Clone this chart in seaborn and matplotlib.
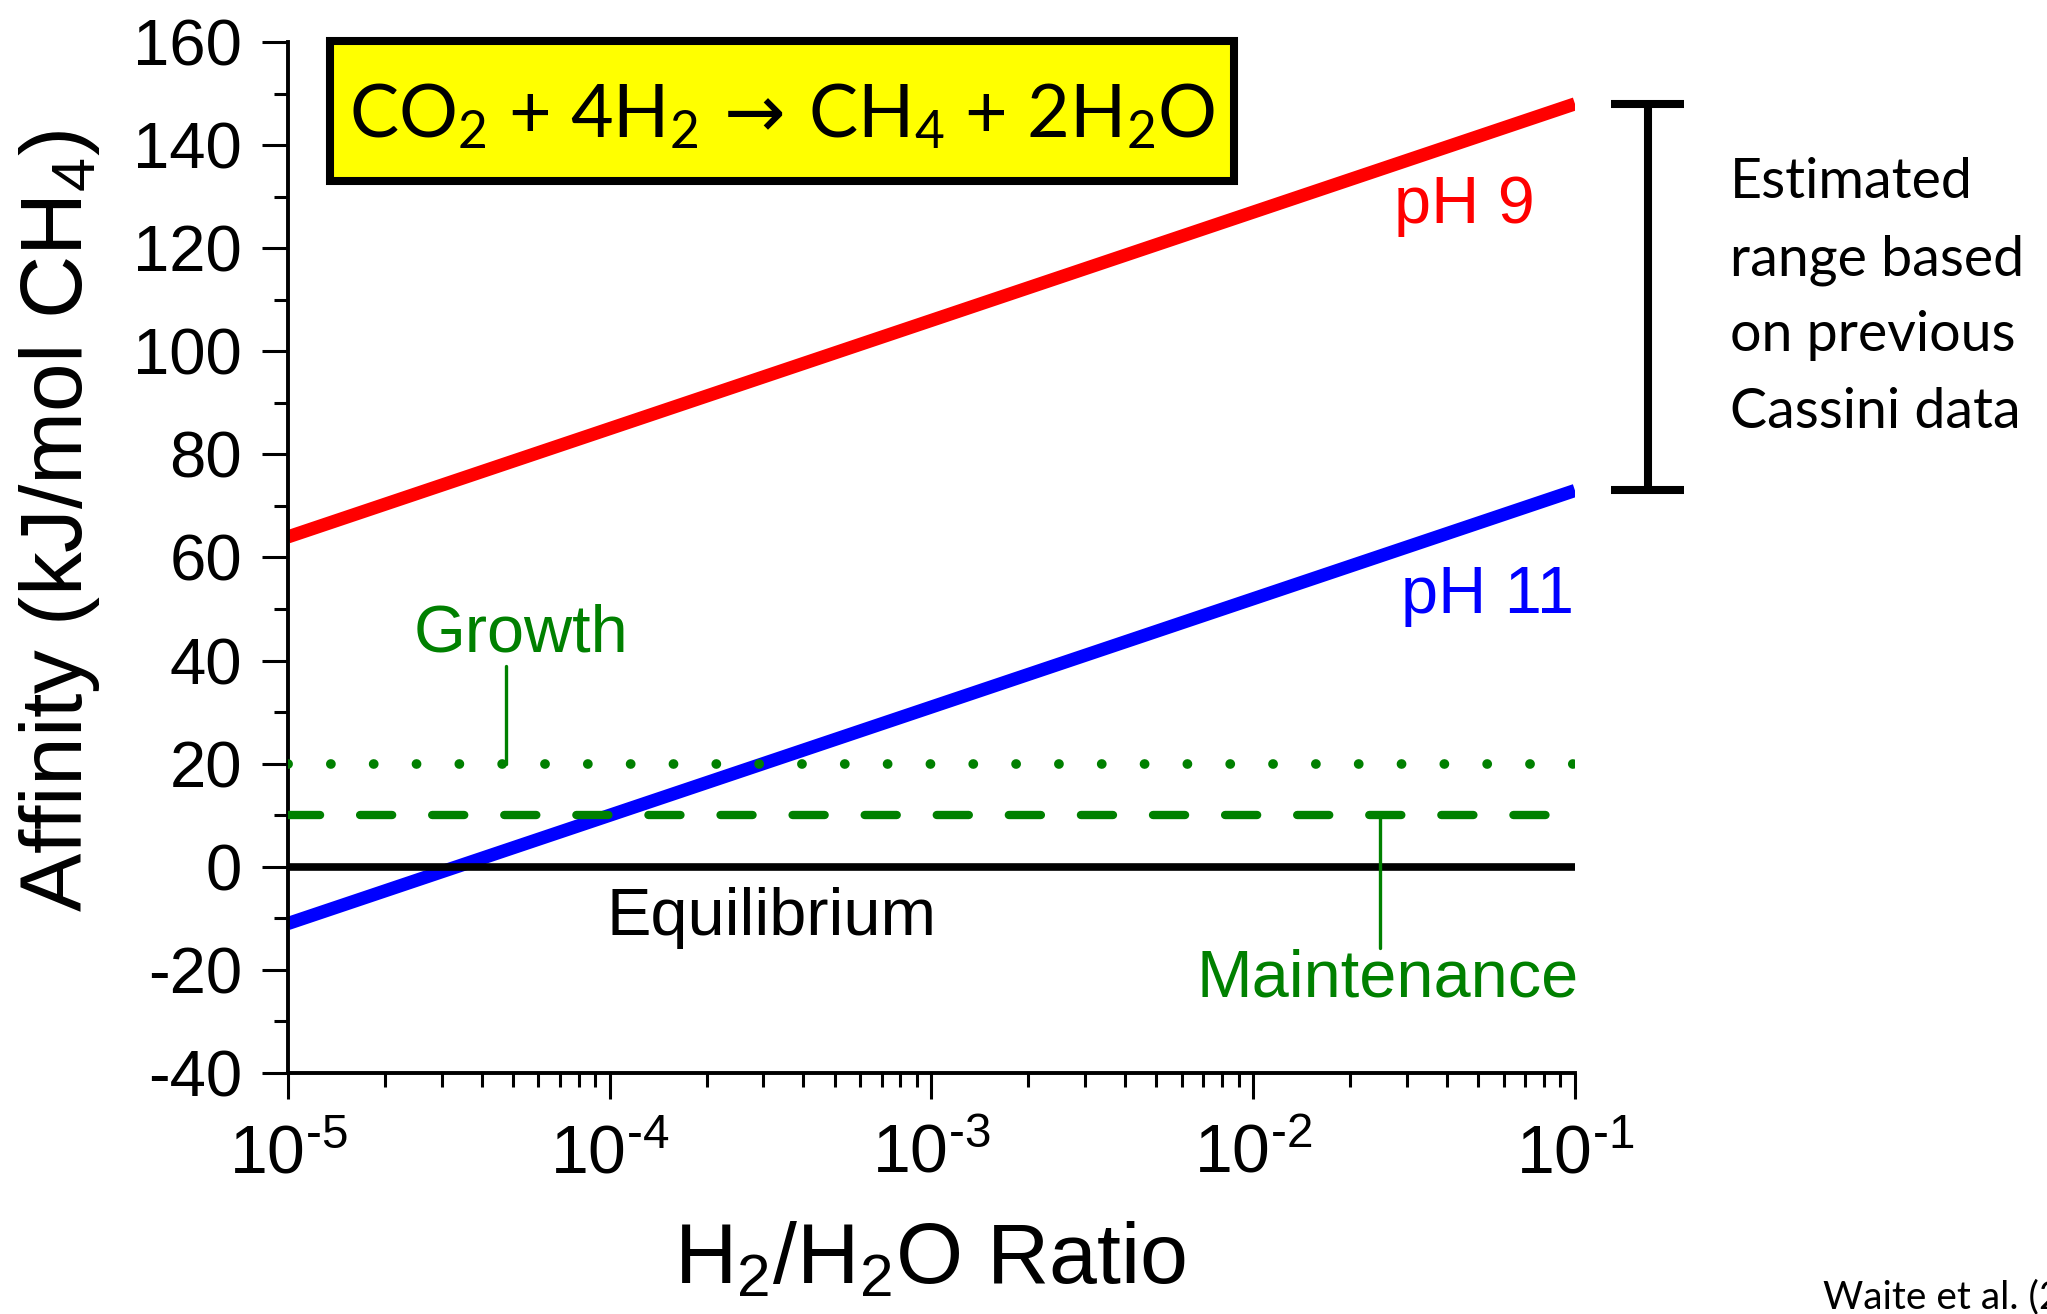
import numpy as np
import pandas as pd
import matplotlib
matplotlib.use('Agg')
import matplotlib.pyplot as plt
import matplotlib.transforms as mtransforms
from matplotlib.patches import Rectangle
from matplotlib.ticker import MultipleLocator, LogLocator, NullFormatter
import seaborn as sns

# ---------------- data ----------------
ratio = [1e-5, 1e-4, 1e-3, 1e-2, 1e-1]
affinity_ph9 = [64, 85, 106, 127, 148]
affinity_ph11 = [-11, 10, 31, 52, 73]
growth_level = 20
maintenance_level = 10
equilibrium_level = 0
cassini_range = [73, 148]
y_ticks = [-40, -20, 0, 20, 40, 60, 80, 100, 120, 140, 160]
x_ticks = [1e-5, 1e-4, 1e-3, 1e-2, 1e-1]
x_tick_labels = [r'$\mathregular{10}^{\text{-5}}$', r'$\mathregular{10}^{\text{-4}}$',
                 r'$\mathregular{10}^{\text{-3}}$', r'$\mathregular{10}^{\text{-2}}$',
                 r'$\mathregular{10}^{\text{-1}}$']
note_lines = ['Estimated', 'range based', 'on previous', 'Cassini data']

# ---------------- style ----------------
sns.set_style('ticks')
plt.rcParams['font.family'] = ['Liberation Sans', 'DejaVu Sans']
plt.rcParams['axes.unicode_minus'] = False
plt.rcParams['mathtext.fontset'] = 'custom'
plt.rcParams['mathtext.rm'] = 'Liberation Sans'
plt.rcParams['mathtext.it'] = 'Liberation Sans:italic'
plt.rcParams['mathtext.bf'] = 'Liberation Sans:bold'
plt.rcParams['mathtext.sf'] = 'DejaVu Sans'
for k in ['text.color', 'axes.labelcolor', 'xtick.color', 'ytick.color', 'axes.edgecolor']:
    plt.rcParams[k] = 'black'

RED = '#FF0000'
BLUE = '#0000FF'
GREEN = '#008000'

fig = plt.figure(figsize=(20.47, 13.14), dpi=100)
ax = fig.add_axes([0.14069, 0.18341, 0.62872, 0.78463])

df = pd.DataFrame({
    'ratio': ratio + ratio,
    'affinity': affinity_ph9 + affinity_ph11,
    'pH': ['pH 9'] * len(ratio) + ['pH 11'] * len(ratio),
})
sns.lineplot(data=df, x='ratio', y='affinity', hue='pH',
             palette={'pH 9': RED, 'pH 11': BLUE}, linewidth=9.5,
             legend=False, ax=ax, zorder=2)
for ln in ax.lines:
    ln.set_solid_capstyle('butt')

ax.set_xscale('log')
ax.set_xlim(1e-5, 1e-1)
ax.set_ylim(-40, 160)

# thresholds
ax.axhline(growth_level, color=GREEN, lw=7, linestyle=(0, (0.01, 4.395)),
           dash_capstyle='round', zorder=3)
ax.axhline(maintenance_level, color=GREEN, lw=6, linestyle=(0, (3.85, 4.8)),
           dash_capstyle='round', zorder=3)
ax.axhline(equilibrium_level, color='black', lw=5.5, zorder=3)

# leader lines
ax.plot([4.76e-5, 4.76e-5], [growth_level, 39], color=GREEN, lw=2.4, zorder=3)
ax.plot([0.02477, 0.02477], [maintenance_level, -15.7], color=GREEN, lw=2.4, zorder=3)

# labels in plot
fs_ann = 48
ax.text(0.0752, 124.9, 'pH 9', color=RED, fontsize=fs_ann, ha='right', va='baseline')
ax.text(0.0995, 49.2, 'pH 11', color=BLUE, fontsize=fs_ann, ha='right', va='baseline')
ax.text(5.30e-5, 41.7, 'Growth', color=GREEN, fontsize=fs_ann, ha='center', va='baseline')
ax.text(3.19e-4, -13.2, 'Equilibrium', color='black', fontsize=fs_ann, ha='center', va='baseline')
ax.text(0.02624, -25.1, 'Maintenance', color=GREEN, fontsize=fs_ann, ha='center', va='baseline')

# ticks
ax.set_yticks(y_ticks)
ax.yaxis.set_minor_locator(MultipleLocator(10))
ax.set_xticks(x_ticks)
ax.set_xticklabels(x_tick_labels)
ax.xaxis.set_minor_locator(LogLocator(base=10, subs=np.arange(2, 10)))
ax.xaxis.set_minor_formatter(NullFormatter())
ax.tick_params(which='major', length=19, width=2.2, direction='out', colors='black')
ax.tick_params(axis='y', which='major', labelsize=47, pad=14)
ax.tick_params(axis='x', which='major', labelsize=49, pad=17)
ax.tick_params(which='minor', length=10, width=2.2, direction='out', colors='black')
sns.despine(ax=ax)
for s in ['left', 'bottom']:
    ax.spines[s].set_linewidth(2.8)
    ax.spines[s].set_color('black')

# axis labels
ax.set_xlabel(r'H$_\mathregular{2}$/H$_\mathregular{2}$O Ratio', fontsize=62)
ax.xaxis.label.set_va('baseline')
ax.xaxis.set_label_coords(0.499, -0.2037)
ax.set_ylabel(r'Affinity (kJ/mol CH$_\mathregular{4}$)', fontsize=63)
ax.yaxis.label.set_va('baseline')
ax.yaxis.set_label_coords(-0.160, 0.5354)

# equation box
box = Rectangle((0.0326, 0.8652), 0.7025, 0.1358, transform=ax.transAxes,
                facecolor='#FFFF00', edgecolor='black', lw=5.8, clip_on=False, zorder=5)
ax.add_patch(box)
ax.text(0.3838, 0.9075,
        r'CO$_\mathregular{2}$ + 4H$_\mathregular{2}\,\mathsf{\rightarrow}\,$CH$_\mathregular{4}$ + 2H$_\mathregular{2}$O',
        transform=ax.transAxes, fontsize=53, family='Lato', ha='center', va='baseline',
        color='black', zorder=6, clip_on=False)

# Cassini range bar (outside axes, y in data units)
trans = mtransforms.blended_transform_factory(ax.transAxes, ax.transData)
bar_x = 1.0567
ax.plot([bar_x, bar_x], cassini_range, transform=trans, color='black', lw=5.8,
        clip_on=False, solid_capstyle='butt')
for v in cassini_range:
    ax.plot([1.028, 1.0847], [v, v], transform=trans, color='black', lw=5.8,
            clip_on=False, solid_capstyle='butt')

note_y = [0.8487, 0.7740, 0.7003, 0.6256]
for txt, yy in zip(note_lines, note_y):
    ax.text(1.1205, yy, txt, transform=ax.transAxes, fontsize=40, family='Lato',
            color='black', ha='left', va='baseline', clip_on=False)

fig.text(0.8905, 0.0046, 'Waite et al. (2017)', fontsize=28, family='Lato',
         color='black', ha='left', va='baseline')

fig.savefig('out.png', dpi=100)
